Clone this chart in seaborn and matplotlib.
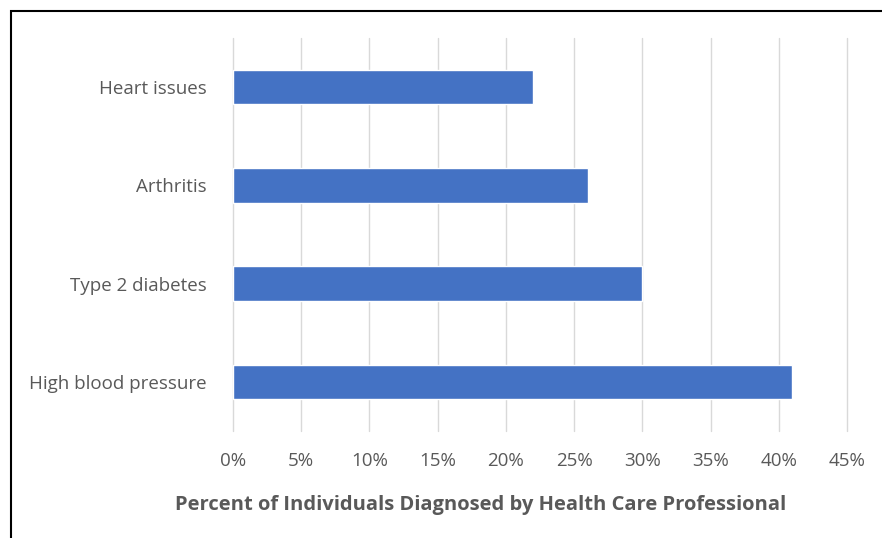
import matplotlib
matplotlib.use('Agg')
import matplotlib.pyplot as plt
import matplotlib.patches as mpatches
import seaborn as sns
import pandas as pd
from matplotlib.ticker import PercentFormatter, MultipleLocator

conditions = ['Heart issues', 'Arthritis', 'Type 2 diabetes', 'High blood pressure']
percents = [22, 26, 30, 41]

df = pd.DataFrame({'condition': conditions, 'percent': percents})

sns.set_style('white')
plt.rcParams['font.family'] = ['Open Sans', 'DejaVu Sans']

fig = plt.figure(figsize=(8.82, 5.38), dpi=100)
ax = fig.add_axes([233 / 882, 1 - 431 / 538, (847 - 233) / 882, (431 - 38) / 538])

sns.barplot(data=df, x='percent', y='condition', order=conditions,
            color='#4472C4', width=0.35, saturation=1, ax=ax, zorder=3)

ax.set_xlim(0, 45)
ax.xaxis.set_major_locator(MultipleLocator(5))
ax.xaxis.set_major_formatter(PercentFormatter(decimals=0))
ax.grid(axis='x', color='#d9d9d9', linewidth=1, zorder=0)
for gl in ax.get_xgridlines():
    gl.set_clip_on(False)
ax.set_axisbelow(True)
for s in ax.spines.values():
    s.set_visible(False)
ax.tick_params(axis='both', length=0, labelsize=13.5, colors='#595959')
ax.tick_params(axis='x', pad=15)
ax.tick_params(axis='y', pad=19)
ax.set_xlabel('')
ax.set_ylabel('')

fig.text(481 / 882, 1 - 505 / 538, 'Percent of Individuals Diagnosed by Health Care Professional',
         ha='center', va='center', fontsize=14.5, fontweight='bold', color='#595959')

# frame around chart (left and top edges visible)
fig.patches.append(mpatches.Rectangle((11 / 882, -0.05), 1.0, 1 - 11 / 538 + 0.05,
                                      transform=fig.transFigure, fill=False,
                                      edgecolor='black', linewidth=1.5))

fig.savefig('out.png', dpi=100)
